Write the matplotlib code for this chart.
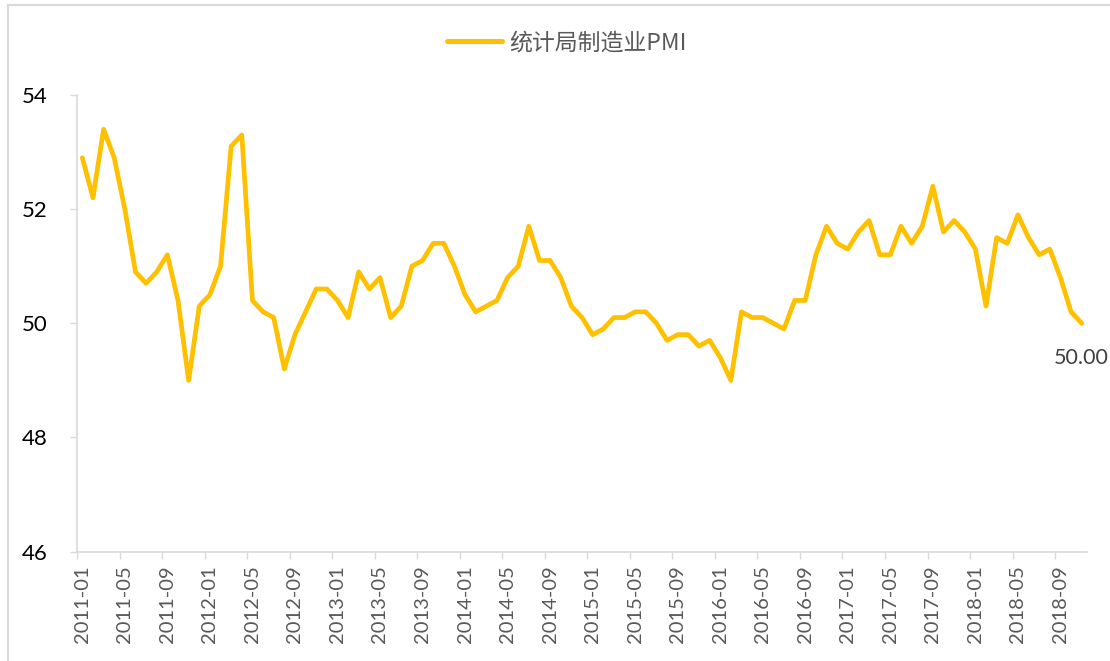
import matplotlib
matplotlib.use("Agg")
import matplotlib.pyplot as plt
from matplotlib.lines import Line2D

# Data: NBS manufacturing PMI, 2011-01 .. 2018-11
months = [f"{y}-{m:02d}" for y in range(2011, 2019) for m in range(1, 13)][:95]
pmi = [
    52.9, 52.2, 53.4, 52.9, 52.0, 50.9, 50.7, 50.9, 51.2, 50.4, 49.0, 50.3,   # 2011
    50.5, 51.0, 53.1, 53.3, 50.4, 50.2, 50.1, 49.2, 49.8, 50.2, 50.6, 50.6,   # 2012
    50.4, 50.1, 50.9, 50.6, 50.8, 50.1, 50.3, 51.0, 51.1, 51.4, 51.4, 51.0,   # 2013
    50.5, 50.2, 50.3, 50.4, 50.8, 51.0, 51.7, 51.1, 51.1, 50.8, 50.3, 50.1,   # 2014
    49.8, 49.9, 50.1, 50.1, 50.2, 50.2, 50.0, 49.7, 49.8, 49.8, 49.6, 49.7,   # 2015
    49.4, 49.0, 50.2, 50.1, 50.1, 50.0, 49.9, 50.4, 50.4, 51.2, 51.7, 51.4,   # 2016
    51.3, 51.6, 51.8, 51.2, 51.2, 51.7, 51.4, 51.7, 52.4, 51.6, 51.8, 51.6,   # 2017
    51.3, 50.3, 51.5, 51.4, 51.9, 51.5, 51.2, 51.3, 50.8, 50.2, 50.0,         # 2018
]
series_name = "统计局制造业PMI"
y_ticks = [46, 48, 50, 52, 54]

plt.rcParams['font.family'] = ['Lato', 'Noto Sans CJK SC', 'DejaVu Sans']

fig = plt.figure(figsize=(11.10, 6.61), dpi=100)
W, H = 1110, 661
ax = fig.add_axes([77 / W, 1 - 551.5 / H, (1087 - 77) / W, (551.5 - 95) / H])

x = list(range(len(pmi)))
line_color = "#FFC000"
ax.plot(x, pmi, color=line_color, lw=3.4, solid_joinstyle="round", solid_capstyle="round")

ax.set_xlim(-0.5, len(pmi) - 0.5)
ax.set_ylim(46, 54)

# y axis
ax.set_yticks(y_ticks)
ax.set_yticklabels([str(v) for v in y_ticks])
ax.tick_params(axis="y", length=5, width=1, color="#d9d9d9", pad=16,
               labelsize=16, labelcolor="#000000")

# x axis: ticks at category boundaries, labels at category centres
ax.set_xticks([i - 0.5 for i in range(0, len(pmi), 4)])
ax.set_xticklabels([])
ax.set_xticks(list(range(0, len(pmi), 4)), minor=True)
ax.set_xticklabels([months[i] for i in range(0, len(pmi), 4)], minor=True,
                   rotation=90)
ax.tick_params(axis="x", which="major", length=5, width=1, color="#d9d9d9")
ax.tick_params(axis="x", which="minor", length=0, pad=10, labelsize=14.5,
               labelcolor="#595959")

for s in ["top", "right"]:
    ax.spines[s].set_visible(False)
for s in ["left", "bottom"]:
    ax.spines[s].set_color("#d9d9d9")
    ax.spines[s].set_linewidth(1.2)

# data label for last point
ax.annotate(f"{pmi[-1]:.2f}", xy=(x[-1], pmi[-1]), xytext=(0, -25),
            textcoords="offset points", ha="center", va="center",
            fontsize=15.5, color="#404040", annotation_clip=False)

# legend
handle = Line2D([0], [0], color=line_color, lw=3.6, solid_capstyle="round")
fig.legend([handle], [series_name], loc="center", bbox_to_anchor=(567 / W, 1 - 43 / H),
           frameon=False, labelcolor="#595959", handlelength=2.4,
           handletextpad=0.3,
           prop={'family': ['Noto Sans CJK SC', 'DejaVu Sans'], 'size': 16.5})

# chart area border (top and left visible)
fig.add_artist(Line2D([8 / W, 8 / W], [0, 1 - 5 / H], color="#d9d9d9", lw=1.5,
                      transform=fig.transFigure))
fig.add_artist(Line2D([8 / W, 1], [1 - 5 / H, 1 - 5 / H], color="#d9d9d9", lw=1.5,
                      transform=fig.transFigure))

fig.savefig("out.png", dpi=100)
